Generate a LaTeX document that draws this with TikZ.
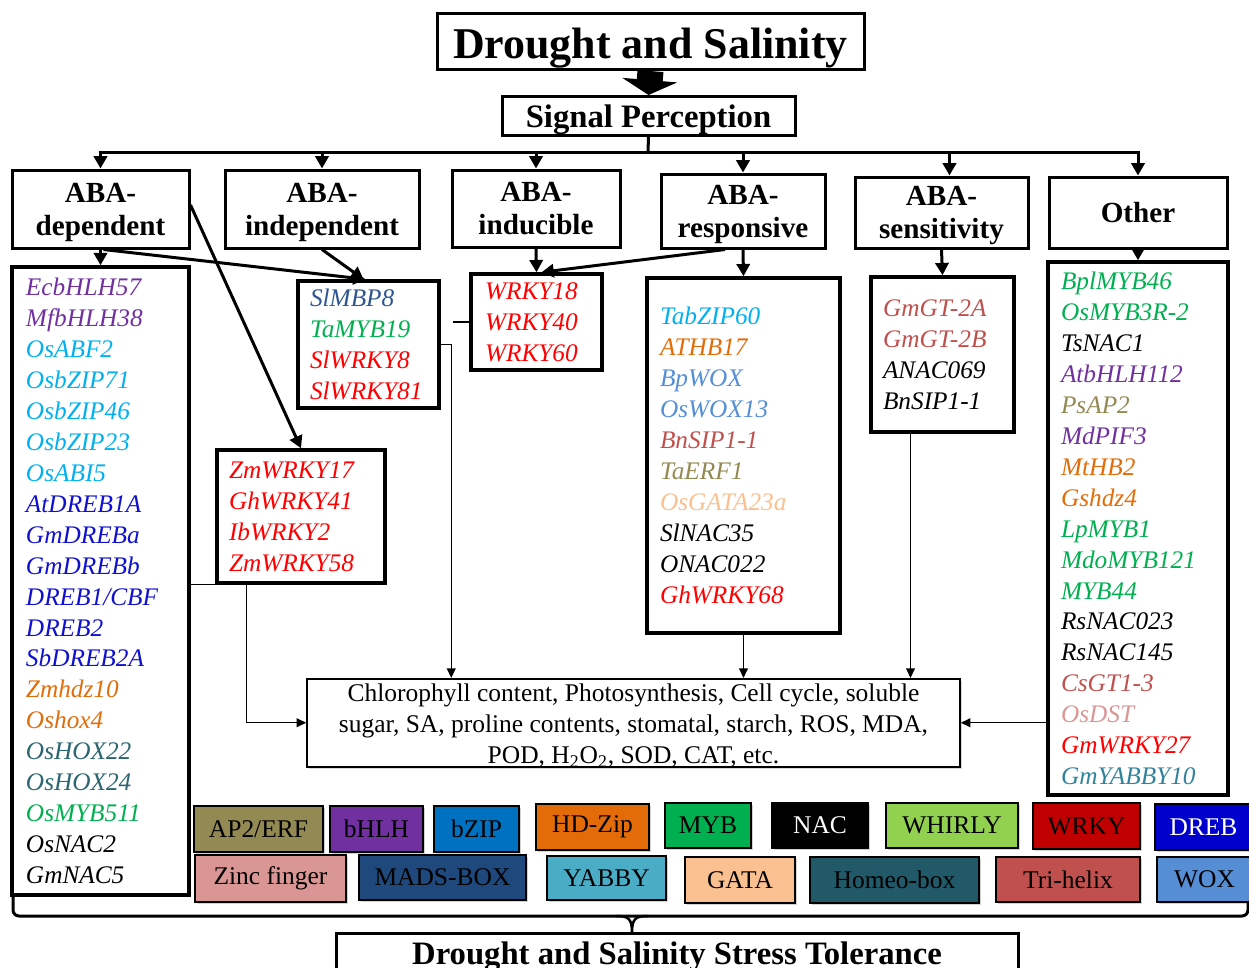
\documentclass[tikz,border=0pt]{standalone}
\usepackage{fontspec}
\setmainfont{Liberation Serif}
\usetikzlibrary{arrows.meta,shadows}

\newlength\px
\setlength\px{0.02cm}

% family colours
\definecolor{cpurple}{HTML}{7030A0}
\definecolor{ccyan}{HTML}{00B0F0}
\definecolor{cdreb}{HTML}{1010D0}
\definecolor{cdrebfill}{HTML}{0000CC}
\definecolor{corange}{HTML}{E36C09}
\definecolor{chomeo}{HTML}{215968}
\definecolor{chomeotext}{HTML}{2A6570}
\definecolor{cgreen}{HTML}{00B050}
\definecolor{cmads}{HTML}{1F497D}
\definecolor{cmadstext}{HTML}{2F5590}
\definecolor{cred}{HTML}{FF0000}
\definecolor{cwox}{HTML}{558ED5}
\definecolor{ctri}{HTML}{C0504D}
\definecolor{colive}{HTML}{938953}
\definecolor{cpeach}{HTML}{FAC090}
\definecolor{czinc}{HTML}{DA9694}
\definecolor{cyabby}{HTML}{4BACC6}
\definecolor{cyabbytext}{HTML}{31849B}
\definecolor{cwhirly}{HTML}{92D050}
\definecolor{cwrky}{HTML}{C00000}
\definecolor{cbzip}{HTML}{0070C0}

\newcommand\gc[2]{\textcolor{#1}{#2}}

\begin{document}
\begin{tikzpicture}[x=0.02cm, y=-0.02cm,
  hbox/.style={draw, line width=3\px, align=center, inner sep=0pt, text depth=0pt,
    font=\bfseries\fontsize{16.6}{18.8}\selectfont},
  lbox/.style={draw, line width=3.5\px, align=left, inner ysep=0pt,
    font=\fontsize{14.4}{17.6}\selectfont\itshape},
  thk/.style={line width=3\px, -{Triangle[length=7pt,width=7.5pt]}},
  thn/.style={line width=1.4\px, -{Triangle[length=5.5pt,width=5pt]}},
  leg/.style={draw, line width=1.4\px, inner sep=0pt,
    font=\fontsize{14.5}{17}\selectfont,
    drop shadow={shadow xshift=1pt, shadow yshift=-1pt, opacity=0.35}},
]
\useasboundingbox (0,0) rectangle (1249,968);
\clip (0,0) rectangle (1249,968);

% top of the cascade
\node[hbox, minimum width=427\px, minimum height=56\px, anchor=north,
  text height=45\px, text depth=11\px,
  font=\bfseries\fontsize{25}{30}\selectfont] (title) at (650.5,12) {Drought and Salinity};
\node[hbox, minimum width=293\px, minimum height=39\px, anchor=north,
  text height=31\px, text depth=8\px,
  font=\bfseries\fontsize{18.6}{22}\selectfont] (sig) at (648.5,95) {Signal Perception};
\draw[line width=26\px, -{Triangle[length=8.5pt,width=31pt]}] (title.south) -- (sig.north);

% pathway categories
\node[hbox, minimum width=177\px, minimum height=78\px] (cdep)   at (100.5,209)  {ABA-\\dependent};
\node[hbox, minimum width=194\px, minimum height=78\px] (cind)   at (322,209)    {ABA-\\independent};
\node[hbox, minimum width=168\px, minimum height=77\px] (cinduc) at (536,208.5)  {ABA-\\inducible};
\node[hbox, minimum width=164\px, minimum height=74\px] (cresp)  at (743,211)    {ABA-\\responsive};
\node[hbox, minimum width=173\px, minimum height=71\px] (csens)  at (941.5,212.5){ABA-\\sensitivity};
\node[hbox, minimum width=178\px, minimum height=71\px] (cother) at (1138,212.5) {Other};

% distribution bus
\coordinate (bus) at (648,152);
\draw[line width=3\px] (sig.south) -- (bus);
\draw[thk] (bus) -| (cdep.north);
\draw[thk] (bus) -| (cother.north);
\foreach \n in {cind,cinduc,cresp}
  \draw[thk] (\n.north |- bus) -- (\n.north);
\coordinate (sensin) at ([xshift=8\px]csens.north);
\draw[thk] (sensin |- bus) -- (sensin);

% gene lists
\node[lbox, inner xsep=14\px, text width=149\px, minimum height=628\px] (ldep) at (100.5,581) {%
\gc{cpurple}{EcbHLH57}\\ \gc{cpurple}{MfbHLH38}\\ \gc{ccyan}{OsABF2}\\ \gc{ccyan}{OsbZIP71}\\
\gc{ccyan}{OsbZIP46}\\ \gc{ccyan}{OsbZIP23}\\ \gc{ccyan}{OsABI5}\\ \gc{cdreb}{AtDREB1A}\\
\gc{cdreb}{GmDREBa}\\ \gc{cdreb}{GmDREBb}\\ \gc{cdreb}{DREB1/CBF}\\ \gc{cdreb}{DREB2}\\
\gc{cdreb}{SbDREB2A}\\ \gc{corange}{Zmhdz10}\\ \gc{corange}{Oshox4}\\ \gc{chomeotext}{OsHOX22}\\
\gc{chomeotext}{OsHOX24}\\ \gc{cgreen}{OsMYB511}\\ OsNAC2\\ GmNAC5};

\node[lbox, inner xsep=12\px, text width=117\px, minimum height=127\px] (lind) at (368.5,344.5) {%
\gc{cmadstext}{SlMBP8}\\ \gc{cgreen}{TaMYB19}\\ \gc{cred}{SlWRKY8}\\ \gc{cred}{SlWRKY81}};

\node[lbox, inner xsep=12\px, text width=144\px, minimum height=133\px] (lzm) at (301,516.5) {%
\gc{cred}{ZmWRKY17}\\ \gc{cred}{GhWRKY41}\\ \gc{cred}{IbWRKY2}\\ \gc{cred}{ZmWRKY58}};

\node[lbox, inner xsep=14\px, text width=103\px, minimum height=96\px] (linduc) at (536.5,322) {%
\gc{cred}{WRKY18}\\ \gc{cred}{WRKY40}\\ \gc{cred}{WRKY60}};

\node[lbox, inner xsep=13\px, text width=167\px, minimum height=355\px] (lresp) at (743.5,455.5) {%
\gc{ccyan}{TabZIP60}\\ \gc{corange}{ATHB17}\\ \gc{cwox}{BpWOX}\\ \gc{cwox}{OsWOX13}\\
\gc{ctri}{BnSIP1-1}\\ \gc{colive}{TaERF1}\\ \gc{cpeach}{OsGATA23a}\\ SlNAC35\\ ONAC022\\
\gc{cred}{GhWRKY68}};

\node[lbox, inner xsep=12\px, text width=119\px, minimum height=155\px] (lsens) at (942.5,354.5) {%
\gc{ctri}{GmGT-2A}\\ \gc{ctri}{GmGT-2B}\\ ANAC069\\ BnSIP1-1};

\node[lbox, inner xsep=13\px, text width=154\px, minimum height=533\px] (lother) at (1138,528.5) {%
\gc{cgreen}{BplMYB46}\\ \gc{cgreen}{OsMYB3R-2}\\ TsNAC1\\ \gc{cpurple}{AtbHLH112}\\
\gc{colive}{PsAP2}\\ \gc{cpurple}{MdPIF3}\\ \gc{corange}{MtHB2}\\ \gc{corange}{Gshdz4}\\
\gc{cgreen}{LpMYB1}\\ \gc{cgreen}{MdoMYB121}\\ \gc{cgreen}{MYB44}\\ RsNAC023\\ RsNAC145\\
\gc{ctri}{CsGT1-3}\\ \gc{czinc}{OsDST}\\ \gc{cred}{GmWRKY27}\\ \gc{cyabbytext}{GmYABBY10}};

% category to list arrows
\draw[thk] (cdep.south) -- (ldep.north);
\draw[thk] ([xshift=3\px]cdep.south) -- ([xshift=-3\px]lind.north);
\draw[thk] (cind.south) -- ([xshift=-5\px]lind.north);
\draw[thk] ([yshift=4\px]cdep.east) -- (lzm.north);
\draw[thk] (cinduc.south) -- (linduc.north);
\draw[thk] ([xshift=-18\px]cresp.south) -- ([xshift=5\px]linduc.north);
\draw[thk] (cresp.south) -- (lresp.north);
\draw[thk] (csens.south) -- (lsens.north);
\draw[thk] (cother.south) -- (lother.north);

% physiological responses
\node[draw, line width=1.5\px, fill=white, minimum width=653\px, anchor=north,
  align=center, inner sep=0pt, text height=85\px, text depth=3\px,
  font=\fontsize{14.5}{17.6}\selectfont,
  drop shadow={shadow xshift=1pt, shadow yshift=-1pt, opacity=0.3}] (res) at (633.5,678)
  {Chlorophyll content, Photosynthesis, Cell cycle, soluble\\
   sugar, SA, proline contents, stomatal, starch, ROS, MDA,\\
   POD, H\textsubscript{2}O\textsubscript{2}, SOD, CAT, etc.};

% list to response connectors
\draw[thn] (lind.east) -| ([xshift=145\px]res.north west);
\coordinate (stub) at (453,322);
\draw[line width=1.4\px] (linduc.west) -- (stub);
\draw[line width=1.4\px] (ldep.east |- lzm.south west) -- (lzm.south west);
\draw[thn] ([xshift=31\px]lzm.south west) |- (res.west);
\draw[thn] (lresp.south) -- (lresp.south |- res.north);
\coordinate (sensout) at ([xshift=-32\px]lsens.south);
\draw[thn] (sensout) -- (sensout |- res.north);
\draw[thn] (lother.west |- res.east) -- (res.east);

% family legend
\node[leg, fill=colive,    minimum width=129\px, minimum height=46\px] (lgA) at (258.5,829)  {AP2/ERF};
\node[leg, fill=cpurple,   minimum width=93\px,  minimum height=46\px] (lgB) at (376.5,829)  {bHLH};
\node[leg, fill=cbzip,     minimum width=85\px,  minimum height=46\px] (lgC) at (476.5,829)  {bZIP};
\node[leg, fill=corange,   minimum width=113\px, minimum height=46\px] (lgD) at (592.5,827)  {HD-Zip};
\node[leg, fill=cgreen,    minimum width=86\px,  minimum height=45\px] (lgE) at (708,825.5)  {MYB};
\node[leg, fill=black, text=white, minimum width=96\px, minimum height=45\px] (lgF) at (820,825.5) {NAC};
\node[leg, fill=cwhirly,   minimum width=132\px, minimum height=45\px] (lgG) at (952,825.5)  {WHIRLY};
\node[leg, fill=cwrky,     minimum width=107\px, minimum height=46\px] (lgH) at (1086.5,826) {WRKY};
\node[leg, fill=cdrebfill, text=white, minimum width=97\px, minimum height=46\px] (lgI) at (1203.5,827) {DREB};
\node[leg, fill=czinc,     minimum width=151\px, minimum height=47\px] (lgJ) at (270.5,878.5) {Zinc finger};
\node[leg, fill=cmads,     minimum width=167\px, minimum height=45\px] (lgK) at (442.5,877.5) {MADS-BOX};
\node[leg, fill=cyabby,    minimum width=119\px, minimum height=44\px] (lgL) at (606.5,878)   {YABBY};
\node[leg, fill=cpeach,    minimum width=110\px, minimum height=46\px] (lgM) at (740,880)     {GATA};
\node[leg, fill=chomeo,    minimum width=169\px, minimum height=46\px] (lgN) at (894.5,880)   {Homeo-box};
\node[leg, fill=ctri,      minimum width=144\px, minimum height=45\px] (lgO) at (1068,879.5)  {Tri-helix};
\node[leg, fill=cwox,      minimum width=95\px,  minimum height=45\px] (lgP) at (1204.5,879.5){WOX};

% outcome
\node[draw, line width=3\px, minimum width=682\px, anchor=north, inner sep=0pt,
  text height=31\px, text depth=33\px,
  font=\bfseries\fontsize{18.6}{22}\selectfont] (tol) at (677,932)
  {Drought and Salinity Stress Tolerance};

% closing brace
\draw[line width=3\px, rounded corners=6\px] (13,896) -- (13,916) -- (1248,916) -- (1248,903);
\draw[line width=2.5\px] (616,916) .. controls (629,916) and (632,919) .. (632,933)
  .. controls (632,919) and (635,916) .. (648,916);
\end{tikzpicture}
\end{document}
